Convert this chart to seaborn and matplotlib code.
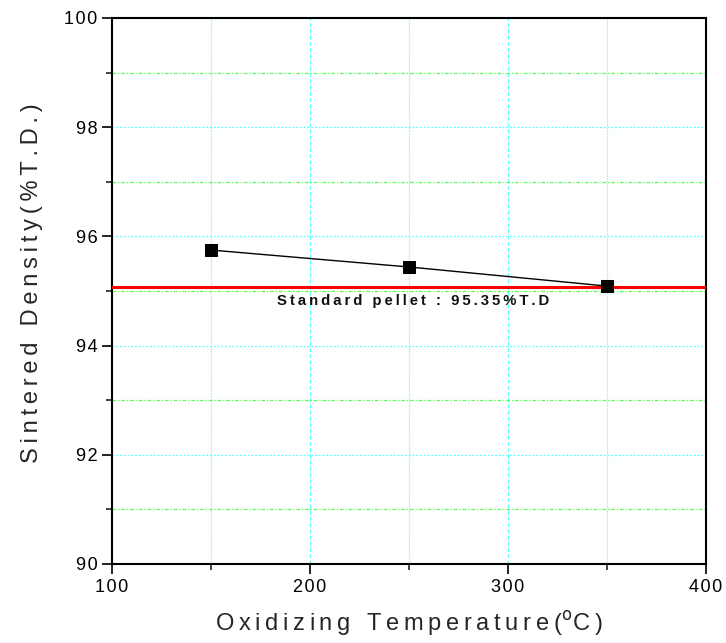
import matplotlib
matplotlib.use("Agg")
import matplotlib.pyplot as plt
import seaborn as sns
import pandas as pd
from matplotlib.ticker import MultipleLocator, FuncFormatter

# data
temperature = [150, 250, 350]
density = [95.75, 95.44, 95.09]
standard_density = 95.07
standard_label = "Standard pellet : 95.35%T.D"


def spaced(s, sep='\u200a'):
    """Fake the wide letter spacing of the original plot."""
    return sep.join(s)


sns.set_style("white")
plt.rcParams['font.family'] = ['Liberation Sans', 'DejaVu Sans']

df = pd.DataFrame({'temp': temperature, 'density': density})

fig = plt.figure(figsize=(7.26, 6.43), dpi=100)
ax = fig.add_axes([112 / 726, 1 - 564 / 643, 594 / 726, 546 / 643])

ax.set_xlim(100, 400)
ax.set_ylim(90, 100)
ax.xaxis.set_major_locator(MultipleLocator(100))
ax.xaxis.set_minor_locator(MultipleLocator(50))
ax.yaxis.set_major_locator(MultipleLocator(2))
ax.yaxis.set_minor_locator(MultipleLocator(1))
ax.xaxis.set_major_formatter(FuncFormatter(lambda v, p: spaced(f'{v:.0f}')))
ax.yaxis.set_major_formatter(FuncFormatter(lambda v, p: spaced(f'{v:.0f}')))

# grid: major cyan, minor green
ax.grid(which='major', axis='x', color='#55ffff', linestyle=(0, (3, 2)), linewidth=0.9)
ax.grid(which='minor', axis='x', color='#88ff88', linestyle=(0, (1, 1)), linewidth=0.9)
ax.grid(which='major', axis='y', color='#55ffff', linestyle=(0, (1.5, 1.5)), linewidth=0.9)
ax.grid(which='minor', axis='y', color='#55ff55', linestyle=(0, (3, 1.5, 1, 1.5)), linewidth=0.9)
ax.set_axisbelow(True)

ax.axhline(standard_density, color='#ff0000', linewidth=2.2, zorder=3)

sns.lineplot(data=df, x='temp', y='density', ax=ax, color='black', linewidth=1,
             marker='s', markersize=8, markeredgecolor='black', zorder=4)

ax.text(252, 94.82, spaced(standard_label, '\u2009'), fontsize=10.7, fontweight='bold',
        ha='center', va='center', color='#111111')

for side in ['left', 'bottom', 'right', 'top']:
    ax.spines[side].set_visible(True)
    ax.spines[side].set_color('black')
    ax.spines[side].set_linewidth(1.5)

ax.tick_params(which='major', direction='out', length=7, width=1.2,
               labelsize=13, bottom=True, left=True, top=False, right=False, colors='black')
ax.tick_params(which='minor', direction='out', length=4, width=1.2,
               bottom=True, left=True, top=False, right=False)

ax.set_xlabel(spaced('Oxidizing Temperature(', '\u2009') + '$^{\\rm o}$' + spaced('C)', '\u2009'),
              fontsize=17, labelpad=10)
ax.set_ylabel(spaced('Sintered Density(%T.D.)', '\u2009'), fontsize=17)
ax.yaxis.set_label_coords(-0.116, 0.515)

fig.savefig('out.png', dpi=100)
